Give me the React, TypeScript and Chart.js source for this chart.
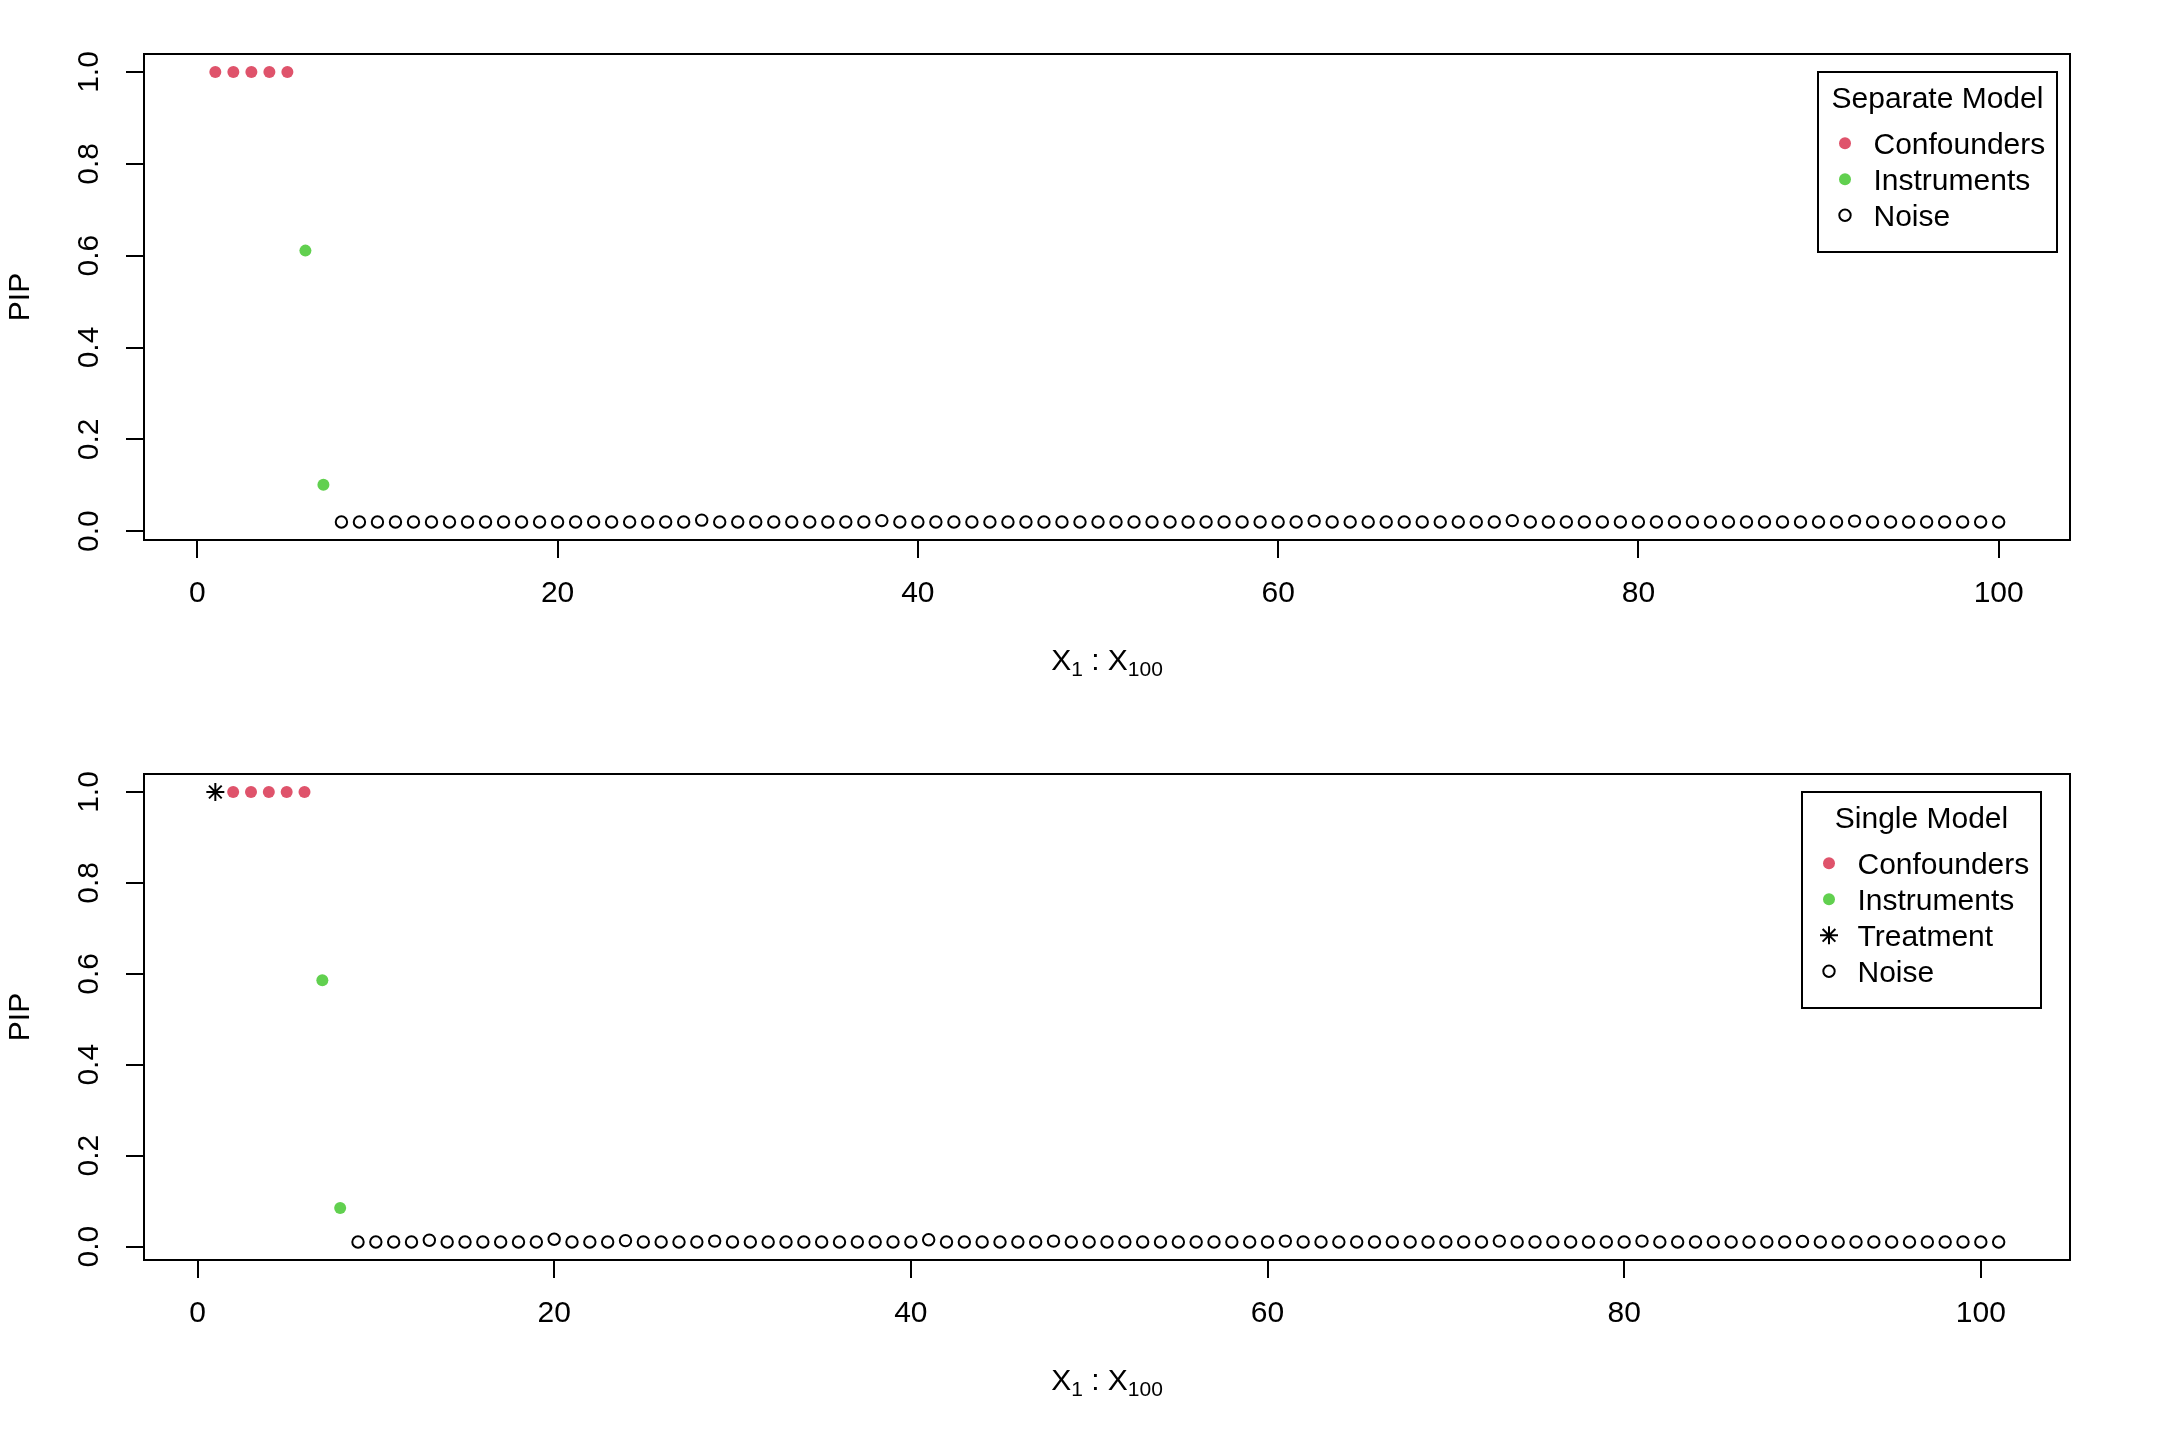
import React, { useEffect, useRef } from 'react';
import { Chart, registerables } from 'chart.js';

Chart.register(...registerables);

const FONT = '"Liberation Sans", Arial, Helvetica, sans-serif';
const RED = '#DF536B';
const GREEN = '#61D04F';

// ---------- Data: Separate Model (top) ----------
const sepConfX = [1, 2, 3, 4, 5];
const sepConfY = [1.0, 1.0, 1.0, 1.0, 1.0];
const sepInstX = [6, 7];
const sepInstY = [0.611, 0.101];
const sepNoiseStart = 8; // X8 ... X100
const sepNoiseY = [
  0.020, 0.020, 0.020, 0.020, 0.020, 0.020, 0.020, 0.020, 0.020, 0.020,
  0.020, 0.020, 0.020, 0.020, 0.020, 0.020, 0.020, 0.020, 0.020, 0.020,
  0.024, 0.020, 0.020, 0.020, 0.020, 0.020, 0.020, 0.020, 0.020, 0.020,
  0.023, 0.020, 0.020, 0.020, 0.020, 0.020, 0.020, 0.020, 0.020, 0.020,
  0.020, 0.020, 0.020, 0.020, 0.020, 0.020, 0.020, 0.020, 0.020, 0.020,
  0.020, 0.020, 0.020, 0.020, 0.022, 0.020, 0.020, 0.020, 0.020, 0.020,
  0.020, 0.020, 0.020, 0.020, 0.020, 0.023, 0.020, 0.020, 0.020, 0.020,
  0.020, 0.020, 0.020, 0.020, 0.020, 0.020, 0.020, 0.020, 0.020, 0.020,
  0.020, 0.020, 0.020, 0.020, 0.022, 0.020, 0.020, 0.020, 0.020, 0.020,
  0.020, 0.020, 0.020,
];

// ---------- Data: Single Model (bottom) ----------
const sinTreatX = [1];
const sinTreatY = [1.0];
const sinConfX = [2, 3, 4, 5, 6];
const sinConfY = [1.0, 1.0, 1.0, 1.0, 1.0];
const sinInstX = [7, 8];
const sinInstY = [0.586, 0.085];
const sinNoiseStart = 9; // X9 ... X101
const sinNoiseY = [
  0.010, 0.010, 0.010, 0.010, 0.014, 0.010, 0.010, 0.010, 0.010, 0.010,
  0.010, 0.016, 0.010, 0.010, 0.010, 0.013, 0.010, 0.010, 0.010, 0.010,
  0.012, 0.010, 0.010, 0.010, 0.010, 0.010, 0.010, 0.010, 0.010, 0.010,
  0.010, 0.010, 0.015, 0.010, 0.010, 0.010, 0.010, 0.010, 0.010, 0.012,
  0.010, 0.010, 0.010, 0.010, 0.010, 0.010, 0.010, 0.010, 0.010, 0.010,
  0.010, 0.010, 0.012, 0.010, 0.010, 0.010, 0.010, 0.010, 0.010, 0.010,
  0.010, 0.010, 0.010, 0.010, 0.012, 0.010, 0.010, 0.010, 0.010, 0.010,
  0.010, 0.010, 0.012, 0.010, 0.010, 0.010, 0.010, 0.010, 0.010, 0.010,
  0.010, 0.011, 0.010, 0.010, 0.010, 0.010, 0.010, 0.010, 0.010, 0.010,
  0.010, 0.010, 0.010,
];

const xTicks = [0, 20, 40, 60, 80, 100];
const yTicks = [0, 0.2, 0.4, 0.6, 0.8, 1.0];

type Pt = { x: number; y: number };
const pairs = (xs: number[], ys: number[]): Pt[] => xs.map((x, i) => ({ x, y: ys[i] }));
const seq = (start: number, ys: number[]): Pt[] => ys.map((y, i) => ({ x: start + i, y }));

type LegendItem = { label: string; kind: 'dot' | 'ring' | 'star'; color: string };
type LegendSpec = { title: string; items: LegendItem[]; rightInset: number; width: number };

type PanelSpec = {
  datasets: any[];
  legend: LegendSpec;
};

function rRange(vals: number[]): [number, number] {
  const mn = Math.min(...vals);
  const mx = Math.max(...vals);
  const d = (mx - mn) * 0.04;
  return [mn - d, mx + d];
}

const dotDs = (data: Pt[], color: string) => ({
  data,
  pointStyle: 'circle',
  pointRadius: 6,
  pointBackgroundColor: color,
  pointBorderColor: color,
  pointBorderWidth: 0,
  pointHoverRadius: 6,
});
const ringDs = (data: Pt[]) => ({
  data,
  pointStyle: 'circle',
  pointRadius: 5.7,
  pointBackgroundColor: 'rgba(0,0,0,0)',
  pointBorderColor: '#000',
  pointBorderWidth: 2,
  pointHoverRadius: 5.7,
});
const starDs = (data: Pt[]) => ({
  data,
  pointStyle: 'star',
  pointRadius: 9,
  pointBackgroundColor: '#000',
  pointBorderColor: '#000',
  pointBorderWidth: 2,
  pointHoverRadius: 9,
});

const topSpec: PanelSpec = {
  datasets: [
    dotDs(pairs(sepConfX, sepConfY), RED),
    dotDs(pairs(sepInstX, sepInstY), GREEN),
    ringDs(seq(sepNoiseStart, sepNoiseY)),
  ],
  legend: {
    title: 'Separate Model',
    items: [
      { label: 'Confounders', kind: 'dot', color: RED },
      { label: 'Instruments', kind: 'dot', color: GREEN },
      { label: 'Noise', kind: 'ring', color: '#000' },
    ],
    rightInset: 13,
    width: 239,
  },
};

const bottomSpec: PanelSpec = {
  datasets: [
    starDs(pairs(sinTreatX, sinTreatY)),
    dotDs(pairs(sinConfX, sinConfY), RED),
    dotDs(pairs(sinInstX, sinInstY), GREEN),
    ringDs(seq(sinNoiseStart, sinNoiseY)),
  ],
  legend: {
    title: 'Single Model',
    items: [
      { label: 'Confounders', kind: 'dot', color: RED },
      { label: 'Instruments', kind: 'dot', color: GREEN },
      { label: 'Treatment', kind: 'star', color: '#000' },
      { label: 'Noise', kind: 'ring', color: '#000' },
    ],
    rightInset: 29,
    width: 239,
  },
};

function drawSymbol(ctx: CanvasRenderingContext2D, kind: string, color: string, x: number, y: number) {
  ctx.save();
  if (kind === 'dot') {
    ctx.fillStyle = color;
    ctx.beginPath();
    ctx.arc(x, y, 6, 0, Math.PI * 2);
    ctx.fill();
  } else if (kind === 'ring') {
    ctx.strokeStyle = color;
    ctx.lineWidth = 2;
    ctx.beginPath();
    ctx.arc(x, y, 5.7, 0, Math.PI * 2);
    ctx.stroke();
  } else {
    const r = 9;
    const d = r * Math.SQRT1_2;
    ctx.strokeStyle = color;
    ctx.lineWidth = 2;
    ctx.beginPath();
    ctx.moveTo(x - r, y);
    ctx.lineTo(x + r, y);
    ctx.moveTo(x, y - r);
    ctx.lineTo(x, y + r);
    ctx.moveTo(x - d, y - d);
    ctx.lineTo(x + d, y + d);
    ctx.moveTo(x - d, y + d);
    ctx.lineTo(x + d, y - d);
    ctx.stroke();
  }
  ctx.restore();
}

function decorPlugin(legend: LegendSpec) {
  return {
    id: 'decor',
    afterDraw(chart: any) {
      const ctx: CanvasRenderingContext2D = chart.ctx;
      const a = chart.chartArea;
      ctx.save();
      // plot frame
      ctx.strokeStyle = '#000';
      ctx.lineWidth = 2;
      ctx.strokeRect(a.left, a.top, a.right - a.left, a.bottom - a.top);

      ctx.fillStyle = '#000';
      // y axis title
      ctx.save();
      ctx.font = `30px ${FONT}`;
      ctx.translate(29, (a.top + a.bottom) / 2);
      ctx.rotate(-Math.PI / 2);
      ctx.textAlign = 'center';
      ctx.textBaseline = 'alphabetic';
      ctx.fillText('PIP', 0, 0);
      ctx.restore();

      // x axis title: X_1 : X_100
      const parts = [
        { t: 'X', sub: false },
        { t: '1', sub: true },
        { t: ' : ', sub: false },
        { t: 'X', sub: false },
        { t: '100', sub: true },
      ];
      const mainFont = `30px ${FONT}`;
      const subFont = `21px ${FONT}`;
      let total = 0;
      const widths = parts.map((p) => {
        ctx.font = p.sub ? subFont : mainFont;
        const w = ctx.measureText(p.t).width;
        total += w;
        return w;
      });
      let cx = (a.left + a.right) / 2 - total / 2;
      const baseY = a.bottom + 130;
      ctx.textAlign = 'left';
      ctx.textBaseline = 'alphabetic';
      parts.forEach((p, i) => {
        ctx.font = p.sub ? subFont : mainFont;
        ctx.fillText(p.t, cx, p.sub ? baseY + 6 : baseY);
        cx += widths[i];
      });

      // legend
      const right = a.right - legend.rightInset;
      const left = right - legend.width;
      const top = a.top + 18;
      const height = 72 + legend.items.length * 36;
      ctx.fillStyle = '#fff';
      ctx.fillRect(left, top, legend.width, height);
      ctx.strokeStyle = '#000';
      ctx.lineWidth = 2;
      ctx.strokeRect(left, top, legend.width, height);
      ctx.fillStyle = '#000';
      ctx.font = mainFont;
      ctx.textAlign = 'center';
      ctx.fillText(legend.title, left + legend.width / 2, top + 36);
      ctx.textAlign = 'left';
      legend.items.forEach((it, i) => {
        const base = top + 82 + i * 36;
        drawSymbol(ctx, it.kind, it.color, left + 27, base - 10.7);
        ctx.fillStyle = '#000';
        ctx.font = mainFont;
        ctx.fillText(it.label, left + 55.5, base);
      });
      ctx.restore();
    },
  };
}

function Panel({ spec }: { spec: PanelSpec }) {
  const ref = useRef<HTMLCanvasElement>(null);
  useEffect(() => {
    const allX: number[] = [];
    const allY: number[] = [];
    spec.datasets.forEach((d) => d.data.forEach((p: Pt) => { allX.push(p.x); allY.push(p.y); }));
    const [xmin, xmax] = rRange(allX);
    const [ymin, ymax] = rRange(allY);
    const tickFont = { family: FONT, size: 30 };
    const chart = new Chart(ref.current as HTMLCanvasElement, {
      type: 'scatter',
      data: { datasets: spec.datasets },
      options: {
        animation: false,
        responsive: false,
        devicePixelRatio: 1,
        layout: { padding: { left: 0, top: 54, right: 90, bottom: 0 } },
        plugins: { legend: { display: false }, tooltip: { enabled: false } },
        scales: {
          x: {
            type: 'linear',
            position: 'bottom',
            min: xmin,
            max: xmax,
            afterBuildTicks: (s: any) => { s.ticks = xTicks.map((v) => ({ value: v })); },
            afterFit: (s: any) => { s.height = 180; },
            grid: { drawOnChartArea: false, drawTicks: true, tickLength: 18, color: '#000', lineWidth: 2 },
            border: { display: false },
            ticks: {
              font: tickFont,
              color: '#000',
              padding: 18,
              maxRotation: 0,
              minRotation: 0,
              autoSkip: false,
              callback: (v: any) => String(v),
            },
          },
          y: {
            type: 'linear',
            position: 'left',
            min: ymin,
            max: ymax,
            afterBuildTicks: (s: any) => { s.ticks = yTicks.map((v) => ({ value: v })); },
            afterFit: (s: any) => { s.width = 144; },
            grid: { drawOnChartArea: false, drawTicks: true, tickLength: 18, color: '#000', lineWidth: 2 },
            border: { display: false },
            ticks: {
              font: tickFont,
              color: '#000',
              padding: 15,
              minRotation: 90,
              maxRotation: 90,
              crossAlign: 'center',
              autoSkip: false,
              callback: (v: any) => Number(v).toFixed(1),
            },
          },
        },
      } as any,
      plugins: [decorPlugin(spec.legend)],
    });
    return () => chart.destroy();
  }, [spec]);
  return <canvas ref={ref} width={2160} height={720} style={{ display: 'block', width: 2160, height: 720 }} />;
}

export default function App() {
  return (
    <div style={{ position: 'absolute', left: 0, top: 0, width: 2160, height: 1440, background: '#fff' }}>
      <Panel spec={topSpec} />
      <Panel spec={bottomSpec} />
    </div>
  );
}
